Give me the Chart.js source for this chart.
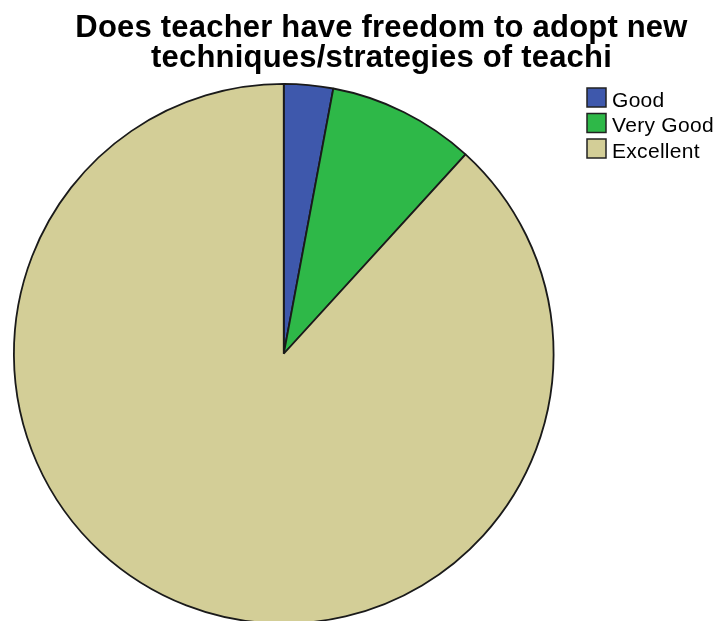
<!DOCTYPE html>
<html>
<head>
<meta charset="utf-8">
<script src="https://cdn.jsdelivr.net/npm/chart.js@4"></script>
<style>
  html, body { margin: 0; padding: 0; background: #fff; overflow: hidden; }
  canvas { display: block; }
</style>
</head>
<body>
<canvas id="pieChart" width="719" height="650"></canvas>
<script>
// data
const labels = ['Good', 'Very Good', 'Excellent'];
const counts = [1, 3, 30];
const colors = ['#3e58ac', '#2eb848', '#d3ce97'];
const titleLines = ['Does teacher have freedom to adopt new', 'techniques/strategies of teachi'];

// title + legend drawn where SPSS puts them (not centred on the pie)
const spssDecor = {
    id: 'spssDecor',
    afterDraw(chart) {
        const ctx = chart.ctx;
        ctx.save();
        ctx.fillStyle = '#000';
        ctx.textAlign = 'left';
        ctx.textBaseline = 'alphabetic';
        ctx.font = 'bold 31px "Liberation Sans", Arial, sans-serif';
        ctx.letterSpacing = '0.2px';
        titleLines.forEach((line, i) => {
            const w = ctx.measureText(line).width;
            ctx.fillText(line, 381.5 - w / 2, 37 + i * 30);
        });

        ctx.font = '21px "Liberation Sans", Arial, sans-serif';
        ctx.letterSpacing = '0.3px';
        chart.data.labels.forEach((lab, i) => {
            const top = 88 + i * 25.5;
            ctx.fillStyle = colors[i];
            ctx.fillRect(587, top, 19, 19);
            ctx.strokeStyle = '#222';
            ctx.lineWidth = 1.5;
            ctx.strokeRect(587, top, 19, 19);
            ctx.fillStyle = '#000';
            ctx.fillText(lab, 612, top + 18.5);
        });
        ctx.restore();
    }
};

new Chart(document.getElementById('pieChart').getContext('2d'), {
    type: 'pie',
    data: {
        labels: labels,
        datasets: [{
            data: counts,
            backgroundColor: colors,
            borderColor: '#1a1a1a',
            borderWidth: 1.8,
        }],
    },
    options: {
        responsive: false,
        animation: false,
        layout: {
            padding: { top: 83, left: 13, right: 164.5, bottom: 25.5 },
        },
        plugins: {
            legend: { display: false },
            title: { display: false },
            tooltip: { enabled: false },
        },
    },
    plugins: [spssDecor],
});
</script>
</body>
</html>
